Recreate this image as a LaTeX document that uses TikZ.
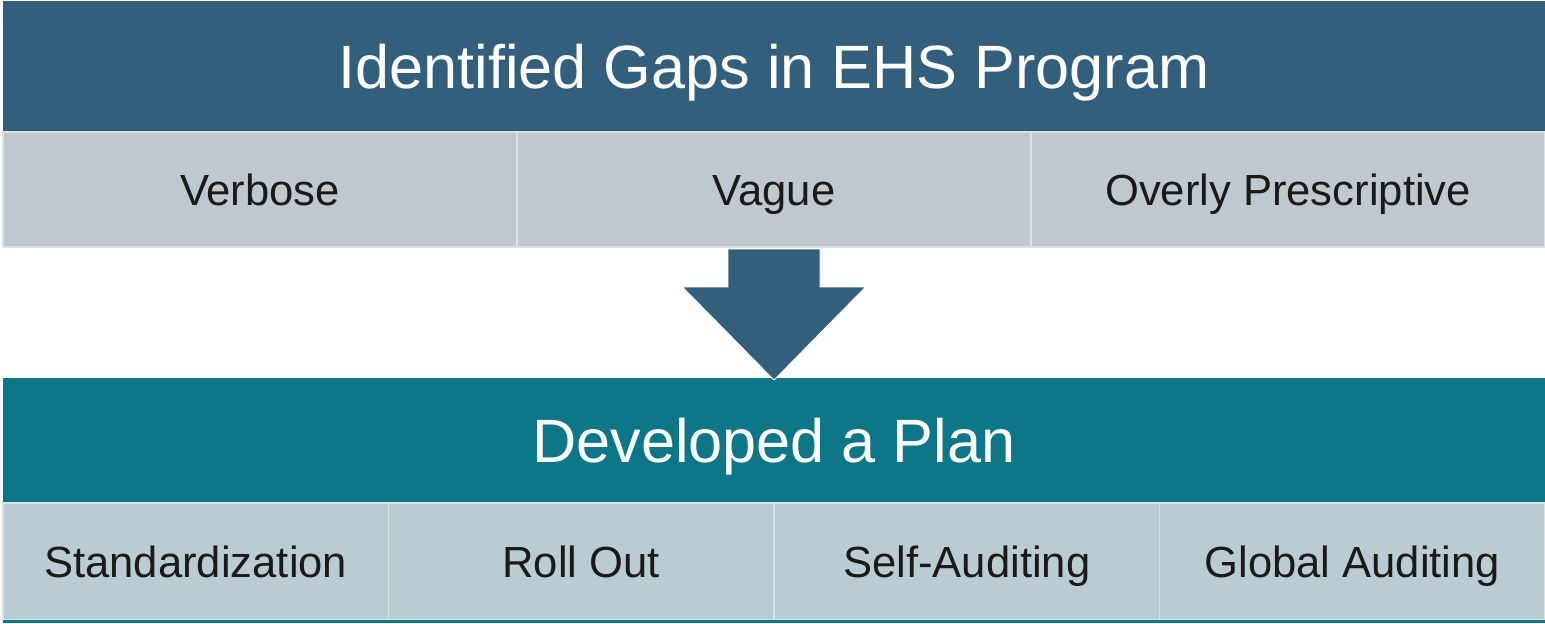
\documentclass[tikz,border=0pt]{standalone}
\usepackage{fontspec}
\setmainfont{Liberation Sans}
\usetikzlibrary{positioning}
\definecolor{ehsblue}{RGB}{51,95,125}
\definecolor{gapgray}{RGB}{191,200,207}
\definecolor{planteal}{RGB}{14,119,135}
\definecolor{plancell}{RGB}{186,204,209}
\definecolor{textdark}{RGB}{26,26,26}
\tikzset{
bar/.style={minimum width=771pt, inner sep=0pt, outer sep=0pt, text=white, text height=21.9pt, text depth=0pt, font=\fontsize{30.6}{36}\selectfont}, % the two wide heading bars
cell/.style={inner sep=0pt, outer sep=0pt, text=textdark, line width=0.9pt, text height=15.6pt, text depth=0pt, font=\fontsize{21.8}{26}\selectfont}, % the boxes under a bar
gapcell/.style={cell, fill=gapgray, draw=white!45!gapgray, minimum width=257pt, minimum height=57.5pt}, % upper row
plancell/.style={cell, fill=plancell, draw=white!45!plancell, minimum width=192.75pt, minimum height=58.5pt}, % lower row
}
\begin{document}
\begin{tikzpicture}
    \useasboundingbox (0,0) rectangle (772.5pt,-311.5pt);
    \node[bar, fill=ehsblue, minimum height=65.5pt, anchor=north west] (gaps) at (1.5pt,-0.5pt) {Identified Gaps in EHS Program};
    \node[gapcell, anchor=north west] (verbose) at (gaps.south west) {Verbose};
    \node[gapcell, right=0pt of verbose] (vague) {Vague};
    \node[gapcell, right=0pt of vague] (prescriptive) {Overly Prescriptive};
    \node[bar, fill=planteal, minimum height=62.5pt, anchor=north west] (plan) at (1.5pt,-189pt) {Developed a Plan};
    \node[plancell, anchor=north west] (standard) at (plan.south west) {Standardization};
    \node[plancell, right=0pt of standard] (rollout) {Roll Out};
    \node[plancell, right=0pt of rollout] (selfaudit) {Self-Auditing};
    \node[plancell, right=0pt of selfaudit] (globalaudit) {Global Auditing};
    \draw[planteal, line width=1.5pt] ([yshift=-0.75pt]standard.south west) -- ([yshift=-0.75pt]globalaudit.south east);
    % arrow from the gaps down to the plan
    \coordinate (shaft) at ([yshift=-1pt]vague.south);
    \coordinate (tip) at (plan.north -| vague.south);
    \fill[ehsblue, draw=white, line width=0.4pt] ([xshift=-23pt]shaft) -- ([xshift=23pt]shaft) -- ++(0,-19pt) -- ++(22.75pt,0)
        -- ([yshift=-1pt]tip) -- ([xshift=-45.75pt, yshift=-19pt]shaft) -- ++(22.75pt,0) -- cycle;
\end{tikzpicture}
\end{document}
